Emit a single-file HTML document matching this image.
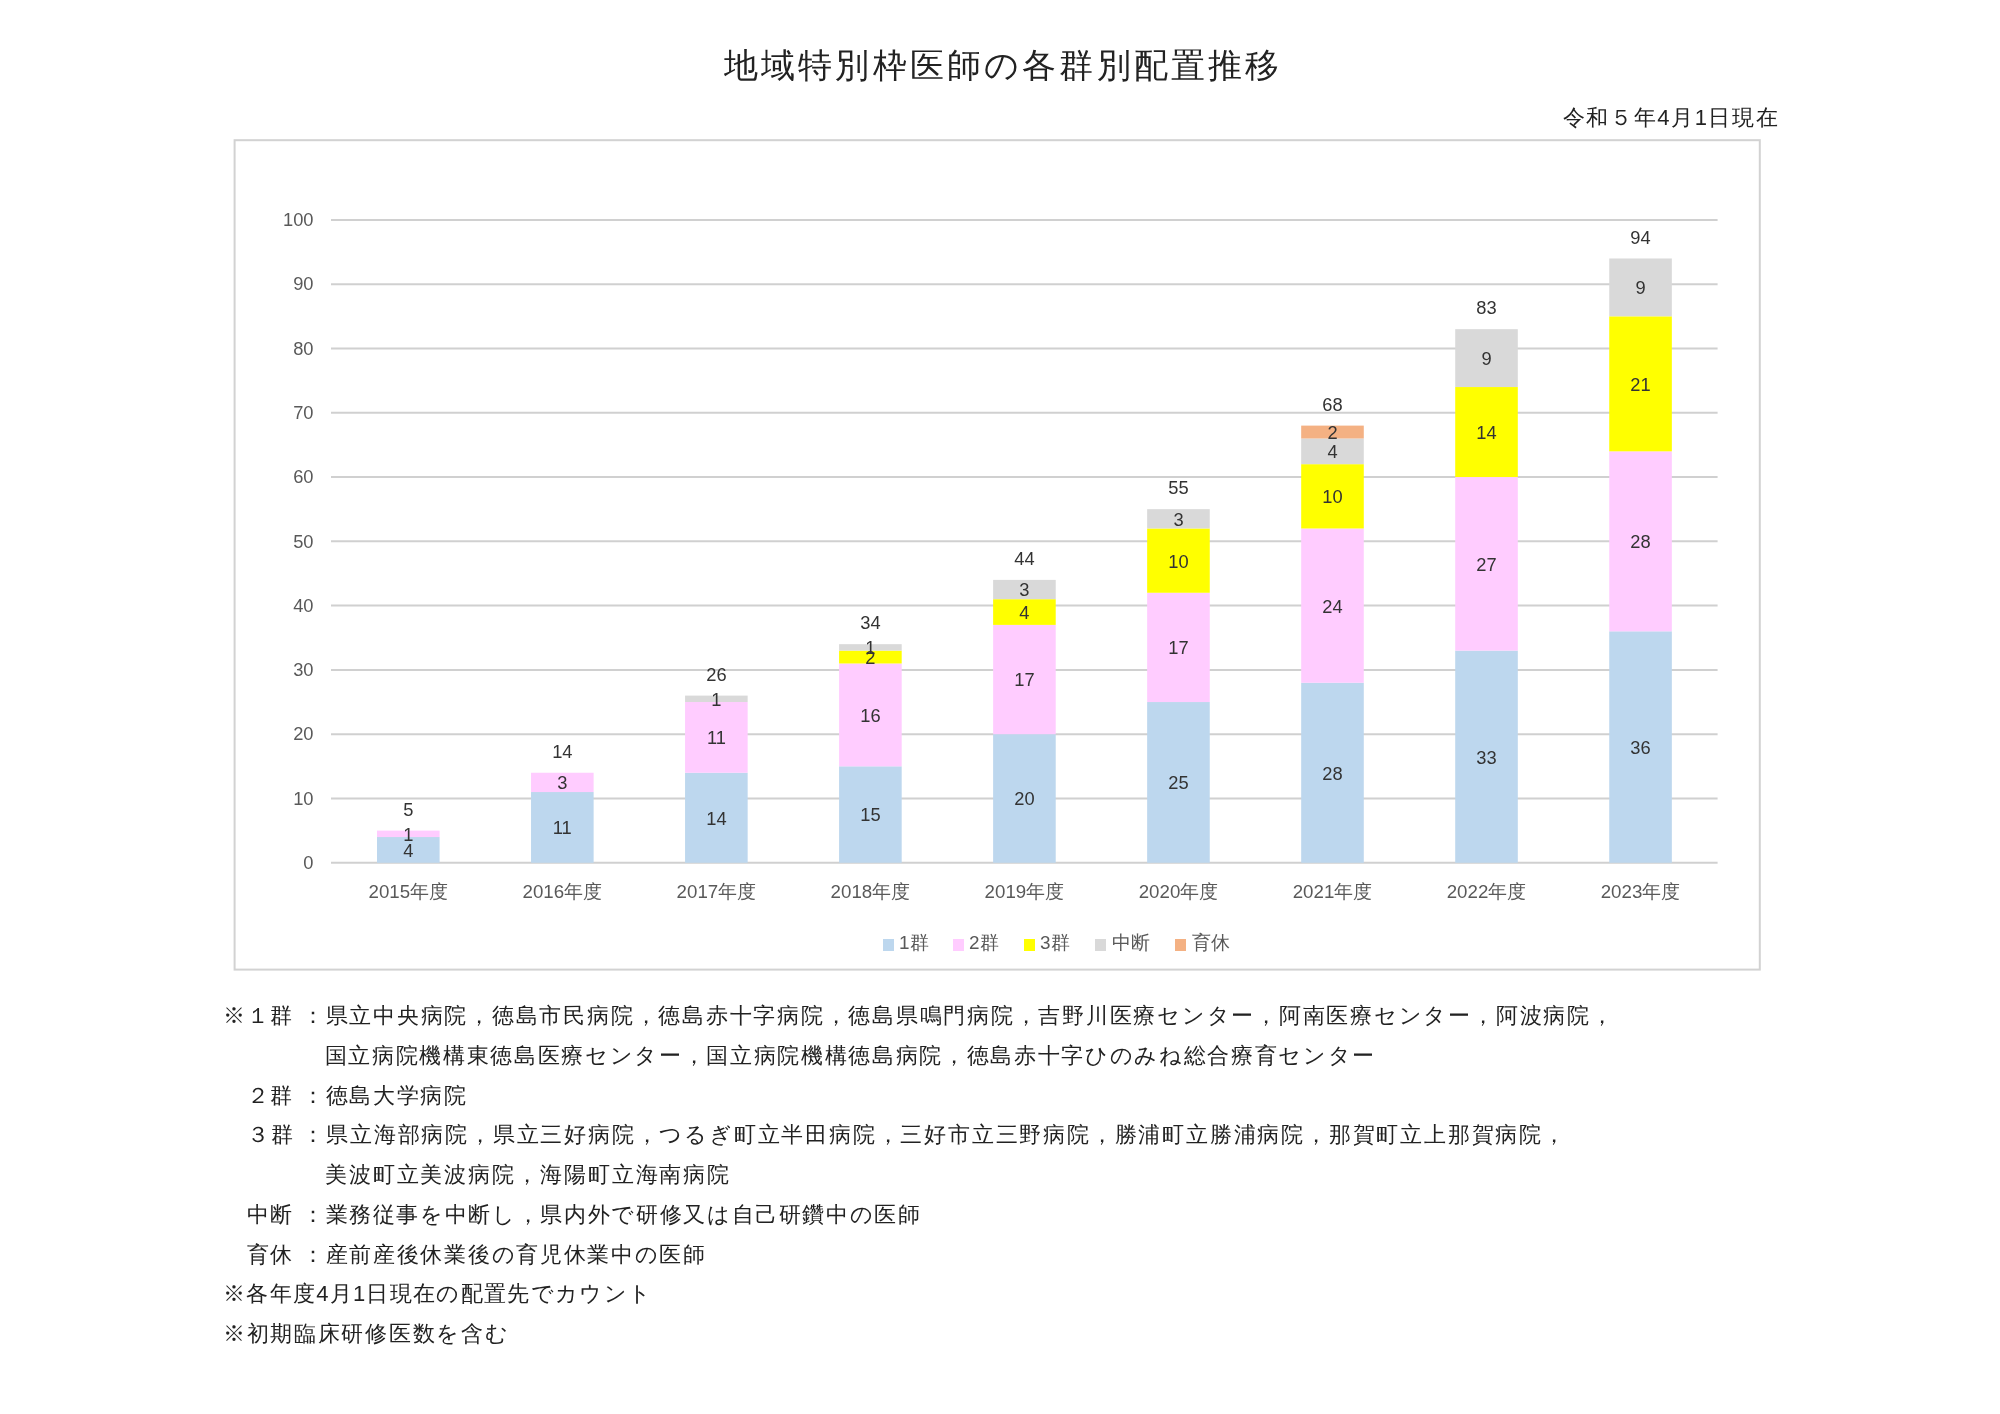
<!DOCTYPE html>
<html lang="ja">
<head>
<meta charset="utf-8">
<title>地域特別枠医師の各群別配置推移</title>
<style>
html,body{margin:0;padding:0;background:#fff;}
body{width:2000px;height:1414px;position:relative;overflow:hidden;font-family:"Liberation Sans",sans-serif;color:#000;}
#chart{position:absolute;left:0;top:0;}
.t{position:absolute;white-space:nowrap;will-change:opacity;}
.title{left:724.0px;width:555.2px;top:40px;height:50px;line-height:50px;font-size:34px;color:#222;}
.j{text-align:justify;text-align-last:justify;text-justify:inter-character;}
.date{top:100px;height:36px;line-height:36px;font-size:22px;left:1562.6px;width:215.2px;color:#222;}
.dl,.cl,.al{font-size:18.3px;height:24px;line-height:24px;text-align:center;}
.dl{color:#333;width:80px;margin-left:-40px;margin-top:-12px;}
.cl{font-size:18.7px;color:#595959;width:120px;margin-left:-60px;margin-top:-12px;}
.al{color:#595959;width:60px;text-align:right;margin-top:-12px;left:253.5px;}
.lg{color:#595959;font-size:18.9px;height:24px;line-height:24px;top:931px;}
.sw{position:absolute;width:11.4px;height:11.4px;top:939.2px;}
.fn{font-size:22px;height:40px;line-height:40px;color:#222;margin-left:0.8px;}
.h{display:inline-block;width:12px;text-align:center;letter-spacing:0;}
</style>
</head>
<body>

<svg id="chart" width="2000" height="1414" viewBox="0 0 2000 1414">
<rect x="234.6" y="140.2" width="1525.2" height="829.4" fill="#fff" stroke="#D2D2D2" stroke-width="2"/>
<line x1="331" y1="862.75" x2="1717.6" y2="862.75" stroke="#D0D0D0" stroke-width="2"/>
<line x1="331" y1="798.47" x2="1717.6" y2="798.47" stroke="#D0D0D0" stroke-width="2"/>
<line x1="331" y1="734.18" x2="1717.6" y2="734.18" stroke="#D0D0D0" stroke-width="2"/>
<line x1="331" y1="669.89" x2="1717.6" y2="669.89" stroke="#D0D0D0" stroke-width="2"/>
<line x1="331" y1="605.61" x2="1717.6" y2="605.61" stroke="#D0D0D0" stroke-width="2"/>
<line x1="331" y1="541.33" x2="1717.6" y2="541.33" stroke="#D0D0D0" stroke-width="2"/>
<line x1="331" y1="477.04" x2="1717.6" y2="477.04" stroke="#D0D0D0" stroke-width="2"/>
<line x1="331" y1="412.75" x2="1717.6" y2="412.75" stroke="#D0D0D0" stroke-width="2"/>
<line x1="331" y1="348.47" x2="1717.6" y2="348.47" stroke="#D0D0D0" stroke-width="2"/>
<line x1="331" y1="284.19" x2="1717.6" y2="284.19" stroke="#D0D0D0" stroke-width="2"/>
<line x1="331" y1="219.90" x2="1717.6" y2="219.90" stroke="#D0D0D0" stroke-width="2"/>
<rect x="377.00" y="837.04" width="62.6" height="25.71" fill="#BDD7EE"/>
<rect x="377.00" y="830.61" width="62.6" height="6.43" fill="#FFCCFF"/>
<rect x="531.03" y="792.04" width="62.6" height="70.71" fill="#BDD7EE"/>
<rect x="531.03" y="772.75" width="62.6" height="19.29" fill="#FFCCFF"/>
<rect x="685.06" y="772.75" width="62.6" height="90.00" fill="#BDD7EE"/>
<rect x="685.06" y="702.04" width="62.6" height="70.71" fill="#FFCCFF"/>
<rect x="685.06" y="695.61" width="62.6" height="6.43" fill="#D9D9D9"/>
<rect x="839.09" y="766.32" width="62.6" height="96.43" fill="#BDD7EE"/>
<rect x="839.09" y="663.47" width="62.6" height="102.86" fill="#FFCCFF"/>
<rect x="839.09" y="650.61" width="62.6" height="12.86" fill="#FFFF00"/>
<rect x="839.09" y="644.18" width="62.6" height="6.43" fill="#D9D9D9"/>
<rect x="993.12" y="734.18" width="62.6" height="128.57" fill="#BDD7EE"/>
<rect x="993.12" y="624.90" width="62.6" height="109.28" fill="#FFCCFF"/>
<rect x="993.12" y="599.18" width="62.6" height="25.71" fill="#FFFF00"/>
<rect x="993.12" y="579.90" width="62.6" height="19.29" fill="#D9D9D9"/>
<rect x="1147.15" y="702.04" width="62.6" height="160.71" fill="#BDD7EE"/>
<rect x="1147.15" y="592.75" width="62.6" height="109.28" fill="#FFCCFF"/>
<rect x="1147.15" y="528.47" width="62.6" height="64.28" fill="#FFFF00"/>
<rect x="1147.15" y="509.18" width="62.6" height="19.29" fill="#D9D9D9"/>
<rect x="1301.18" y="682.75" width="62.6" height="180.00" fill="#BDD7EE"/>
<rect x="1301.18" y="528.47" width="62.6" height="154.28" fill="#FFCCFF"/>
<rect x="1301.18" y="464.18" width="62.6" height="64.29" fill="#FFFF00"/>
<rect x="1301.18" y="438.47" width="62.6" height="25.71" fill="#D9D9D9"/>
<rect x="1301.18" y="425.61" width="62.6" height="12.86" fill="#F4B183"/>
<rect x="1455.21" y="650.61" width="62.6" height="212.14" fill="#BDD7EE"/>
<rect x="1455.21" y="477.04" width="62.6" height="173.57" fill="#FFCCFF"/>
<rect x="1455.21" y="387.04" width="62.6" height="90.00" fill="#FFFF00"/>
<rect x="1455.21" y="329.18" width="62.6" height="57.86" fill="#D9D9D9"/>
<rect x="1609.24" y="631.32" width="62.6" height="231.43" fill="#BDD7EE"/>
<rect x="1609.24" y="451.33" width="62.6" height="180.00" fill="#FFCCFF"/>
<rect x="1609.24" y="316.33" width="62.6" height="135.00" fill="#FFFF00"/>
<rect x="1609.24" y="258.47" width="62.6" height="57.86" fill="#D9D9D9"/>
</svg>
<div class="t title j">地域特別枠医師の各群別配置推移</div>
<div class="t date j">令和５年<span class="h">4</span>月<span class="h">1</span>日現在</div>
<div class="t al" style="top:863.0px">0</div>
<div class="t al" style="top:798.7px">10</div>
<div class="t al" style="top:734.4px">20</div>
<div class="t al" style="top:670.1px">30</div>
<div class="t al" style="top:605.8px">40</div>
<div class="t al" style="top:541.5px">50</div>
<div class="t al" style="top:477.2px">60</div>
<div class="t al" style="top:413.0px">70</div>
<div class="t al" style="top:348.7px">80</div>
<div class="t al" style="top:284.4px">90</div>
<div class="t al" style="top:220.1px">100</div>
<div class="t dl" style="left:408.3px;top:850.8px">4</div>
<div class="t dl" style="left:408.3px;top:834.7px">1</div>
<div class="t dl" style="left:408.3px;top:809.6px">5</div>
<div class="t cl" style="left:408.3px;top:892.3px">2015年度</div>
<div class="t dl" style="left:562.3px;top:828.3px">11</div>
<div class="t dl" style="left:562.3px;top:783.3px">3</div>
<div class="t dl" style="left:562.3px;top:751.8px">14</div>
<div class="t cl" style="left:562.3px;top:892.3px">2016年度</div>
<div class="t dl" style="left:716.4px;top:818.7px">14</div>
<div class="t dl" style="left:716.4px;top:738.3px">11</div>
<div class="t dl" style="left:716.4px;top:699.7px">1</div>
<div class="t dl" style="left:716.4px;top:674.6px">26</div>
<div class="t cl" style="left:716.4px;top:892.3px">2017年度</div>
<div class="t dl" style="left:870.4px;top:815.4px">15</div>
<div class="t dl" style="left:870.4px;top:715.8px">16</div>
<div class="t dl" style="left:870.4px;top:657.9px">2</div>
<div class="t dl" style="left:870.4px;top:648.3px">1</div>
<div class="t dl" style="left:870.4px;top:623.2px">34</div>
<div class="t cl" style="left:870.4px;top:892.3px">2018年度</div>
<div class="t dl" style="left:1024.4px;top:799.4px">20</div>
<div class="t dl" style="left:1024.4px;top:680.4px">17</div>
<div class="t dl" style="left:1024.4px;top:612.9px">4</div>
<div class="t dl" style="left:1024.4px;top:590.4px">3</div>
<div class="t dl" style="left:1024.4px;top:558.9px">44</div>
<div class="t cl" style="left:1024.4px;top:892.3px">2019年度</div>
<div class="t dl" style="left:1178.5px;top:783.3px">25</div>
<div class="t dl" style="left:1178.5px;top:648.3px">17</div>
<div class="t dl" style="left:1178.5px;top:561.5px">10</div>
<div class="t dl" style="left:1178.5px;top:519.7px">3</div>
<div class="t dl" style="left:1178.5px;top:488.2px">55</div>
<div class="t cl" style="left:1178.5px;top:892.3px">2020年度</div>
<div class="t dl" style="left:1332.5px;top:773.7px">28</div>
<div class="t dl" style="left:1332.5px;top:606.5px">24</div>
<div class="t dl" style="left:1332.5px;top:497.2px">10</div>
<div class="t dl" style="left:1332.5px;top:452.2px">4</div>
<div class="t dl" style="left:1332.5px;top:432.9px">2</div>
<div class="t dl" style="left:1332.5px;top:404.6px">68</div>
<div class="t cl" style="left:1332.5px;top:892.3px">2021年度</div>
<div class="t dl" style="left:1486.5px;top:757.6px">33</div>
<div class="t dl" style="left:1486.5px;top:564.7px">27</div>
<div class="t dl" style="left:1486.5px;top:432.9px">14</div>
<div class="t dl" style="left:1486.5px;top:359.0px">9</div>
<div class="t dl" style="left:1486.5px;top:308.2px">83</div>
<div class="t cl" style="left:1486.5px;top:892.3px">2022年度</div>
<div class="t dl" style="left:1640.5px;top:747.9px">36</div>
<div class="t dl" style="left:1640.5px;top:542.2px">28</div>
<div class="t dl" style="left:1640.5px;top:384.7px">21</div>
<div class="t dl" style="left:1640.5px;top:288.3px">9</div>
<div class="t dl" style="left:1640.5px;top:237.5px">94</div>
<div class="t cl" style="left:1640.5px;top:892.3px">2023年度</div>
<div class="sw" style="left:883px;background:#BDD7EE"></div><div class="t lg" style="left:899px">1群</div>
<div class="sw" style="left:953px;background:#FFCCFF"></div><div class="t lg" style="left:969px">2群</div>
<div class="sw" style="left:1024px;background:#FFFF00"></div><div class="t lg" style="left:1040px">3群</div>
<div class="sw" style="left:1095px;background:#D9D9D9"></div><div class="t lg" style="left:1112px">中断</div>
<div class="sw" style="left:1175px;background:#F4B183"></div><div class="t lg" style="left:1192px">育休</div>
<div class="t fn j" style="left:222px;top:996.0px;width:1390.0px">※１群 ：県立中央病院，徳島市民病院，徳島赤十字病院，徳島県鳴門病院，吉野川医療センター，阿南医療センター，阿波病院，</div>
<div class="t fn j" style="left:324px;top:1035.8px;width:1049.6px">国立病院機構東徳島医療センター，国立病院機構徳島病院，徳島赤十字ひのみね総合療育センター</div>
<div class="t fn j" style="left:246px;top:1075.5px;width:219.4px">２群 ：徳島大学病院</div>
<div class="t fn j" style="left:246px;top:1115.2px;width:1318.3px">３群 ：県立海部病院，県立三好病院，つるぎ町立半田病院，三好市立三野病院，勝浦町立勝浦病院，那賀町立上那賀病院，</div>
<div class="t fn j" style="left:324px;top:1155.0px;width:404.5px">美波町立美波病院，海陽町立海南病院</div>
<div class="t fn j" style="left:246px;top:1194.8px;width:673.3px">中断 ：業務従事を中断し，県内外で研修又は自己研鑽中の医師</div>
<div class="t fn j" style="left:246px;top:1234.5px;width:458.3px">育休 ：産前産後休業後の育児休業中の医師</div>
<div class="t fn j" style="left:222px;top:1274.2px;width:428.4px">※各年度<span class="h">4</span>月<span class="h">1</span>日現在の配置先でカウント</div>
<div class="t fn j" style="left:222px;top:1314.0px;width:285.1px">※初期臨床研修医数を含む</div>
</body>
</html>
